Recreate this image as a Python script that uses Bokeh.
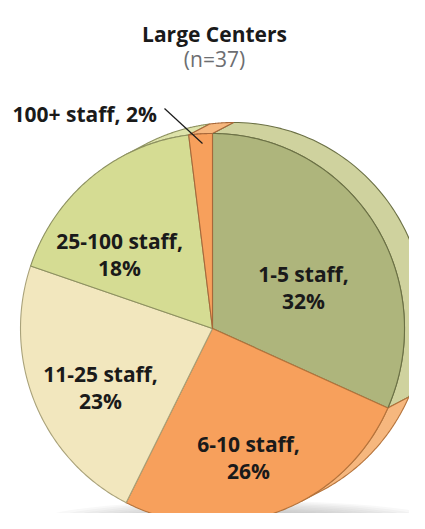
import numpy as np
from bokeh.plotting import figure
from bokeh.models import Range1d
from bokeh.core.properties import value
from bokeh.embed import file_html
from bokeh.resources import INLINE

# ---- data ----
categories = ["1-5 staff", "6-10 staff", "11-25 staff", "25-100 staff", "100+ staff"]
percents = [32, 26, 23, 18, 2]
front_colors = ["#AEB57C", "#F7A05C", "#F2E7BE", "#D5DC93", "#F7A05C"]
rim_colors = ["#CFD29E", "#F6B77E", "#F5ECCB", "#DEE3AA", "#F6B77E"]
line_colors = ["#6B7045", "#B5733B", "#A9A27A", "#8D9160", "#A8683A"]
title = "Large Centers"
subtitle = "(n=37)"

W, H = 409, 513
p = figure(width=W, height=H, x_range=Range1d(0, W), y_range=Range1d(H, 0),
           output_backend="svg", toolbar_location=None, min_border=0)
p.axis.visible = False
p.grid.visible = False
p.outline_line_color = None
p.background_fill_color = "white"
p.border_fill_color = "white"

cx, cy, rx, ry = 212.0, 328.0, 192.0, 195.0
ext = (21.0, -11.0)

def pt(theta_deg, ox=0.0, oy=0.0):
    t = np.radians(theta_deg)
    return cx + ox + rx * np.sin(t), cy + oy - ry * np.cos(t)

# soft shadow under the pie
for i in range(12):
    p.ellipse(x=[240], y=[522], width=[410 - i * 24], height=[44 - i * 2.8],
              fill_color="#7f8386", fill_alpha=0.055, line_color=None)

vals = np.array(percents, dtype=float)
fr = vals / vals.sum()
ends = np.cumsum(fr) * 360.0
starts = ends - fr * 360.0

vis_lo, vis_hi = -27.6, 152.4  # side of the disc that faces the viewer

band_xs, band_ys, band_fc, band_lc = [], [], [], []
for s, e, rc, lc in zip(starts, ends, rim_colors, line_colors):
    for off in (0.0, 360.0, -360.0):
        a = max(s + off, vis_lo)
        b = min(e + off, vis_hi)
        if b > a:
            th = np.linspace(a, b, 80)
            fx, fy = pt(th)
            bx, by = pt(th[::-1], ext[0], ext[1])
            band_xs.append(list(np.concatenate([fx, bx])))
            band_ys.append(list(np.concatenate([fy, by])))
            band_fc.append(rc)
            band_lc.append(lc)
p.patches(xs=band_xs, ys=band_ys, fill_color=band_fc, line_color=band_lc,
          line_width=1.1, line_join="round")

xs, ys = [], []
for s, e in zip(starts, ends):
    th = np.linspace(s, e, 120)
    ax, ay = pt(th)
    xs.append([cx] + list(ax))
    ys.append([cy] + list(ay))
p.patches(xs=xs, ys=ys, fill_color=front_colors, line_color=line_colors,
          line_width=1.1, line_join="round")

# labels
font = value("Open Sans")
lab_x = [303, 248, 100, 119]
lab_y = [273, 443, 373, 240]
lines1 = [c + "," for c in categories[:4]]
lines2 = [f"{v}%" for v in percents[:4]]
p.text(x=lab_x, y=lab_y, text=lines1, text_font=font, text_font_style="bold",
       text_font_size="21px", text_align="center", text_baseline="alphabetic",
       text_color="#1a1a1a")
p.text(x=lab_x, y=[v + 27 for v in lab_y], text=lines2, text_font=font,
       text_font_style="bold", text_font_size="21px", text_align="center",
       text_baseline="alphabetic", text_color="#1a1a1a")

p.text(x=[12], y=[113], text=[f"{categories[4]}, {percents[4]}%"], text_font=font,
       text_font_style="bold", text_font_size="21px", text_align="left",
       text_baseline="alphabetic", text_color="#1a1a1a")
p.line(x=[164, 202], y=[108, 143], line_color="#1a1a1a", line_width=1.2)

p.text(x=[214], y=[33], text=[title], text_font=font, text_font_style="bold",
       text_font_size="21px", text_align="center", text_baseline="alphabetic",
       text_color="#1a1a1a")
p.text(x=[214], y=[58], text=[subtitle], text_font=font,
       text_font_size="21px", text_align="center", text_baseline="alphabetic",
       text_color="#6D6E71")

open("out.html", "w").write(file_html(p, INLINE))
